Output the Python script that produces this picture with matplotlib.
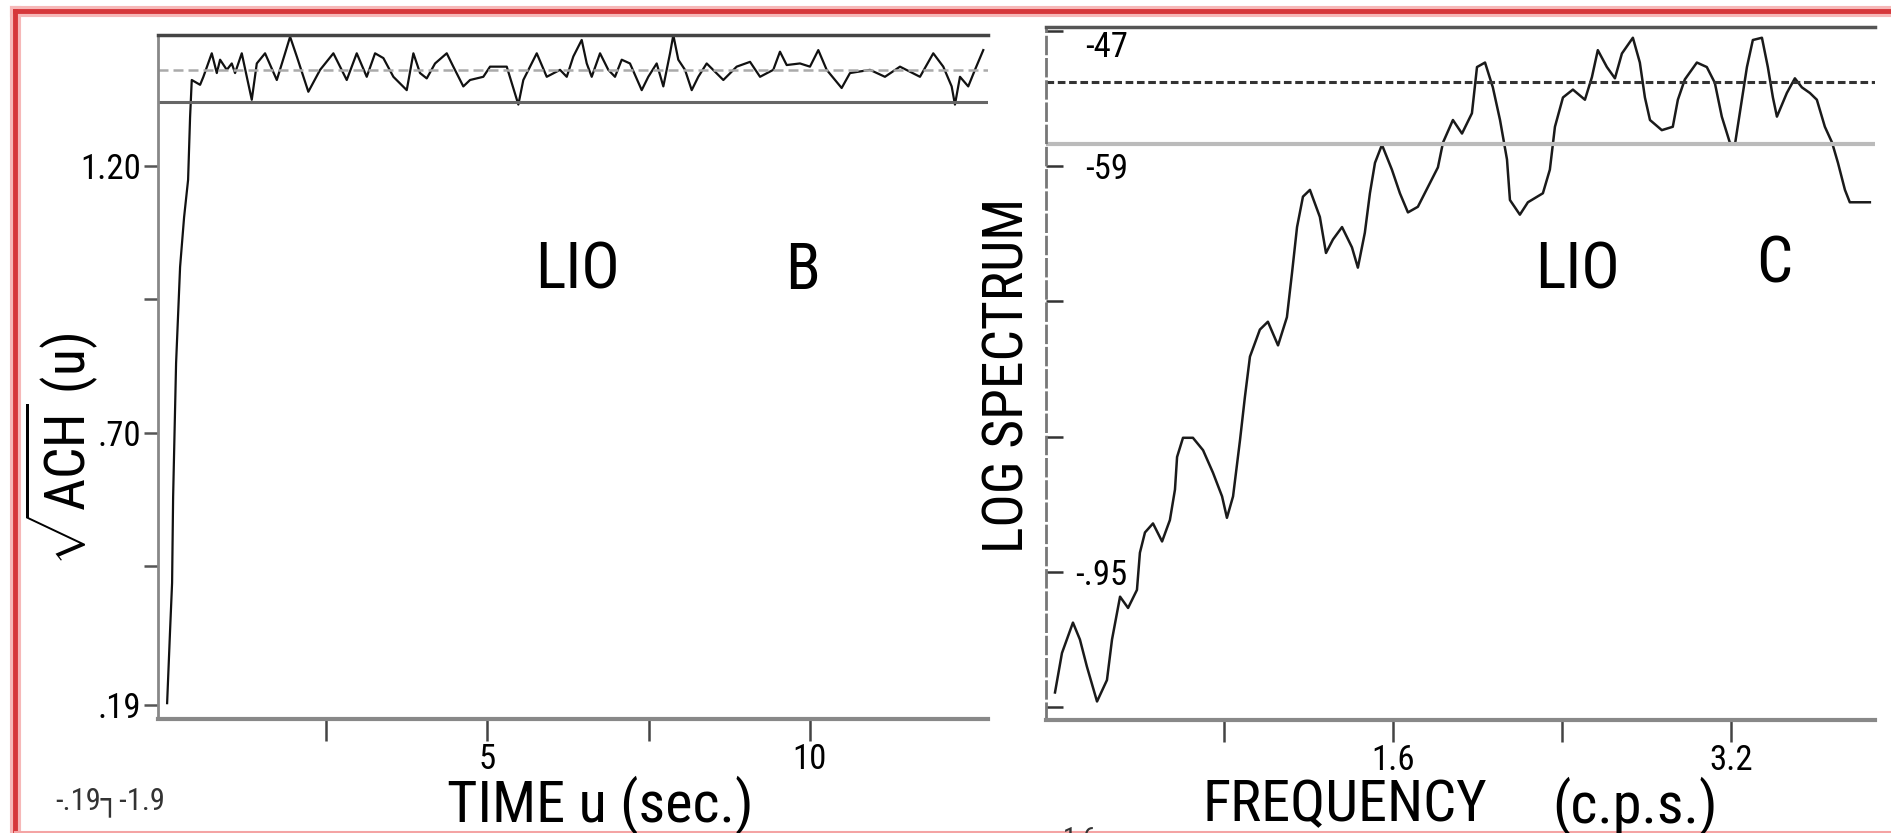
# -*- coding: utf-8 -*-
import numpy as np

import matplotlib
matplotlib.use('Agg')
import matplotlib.pyplot as plt
from matplotlib import font_manager
from matplotlib.lines import Line2D

# panel B: sqrt(ACH) against lag u
time = [0.036, 0.082, 0.113, 0.129, 0.175, 0.237, 0.299, 0.361, 0.392, 0.418,
        0.547, 0.598, 0.728, 0.806, 0.857, 0.961, 1.038, 1.089, 1.193, 1.271,
        1.348, 1.426, 1.554, 1.736, 1.864, 1.942, 2.046, 2.225, 2.407, 2.613,
        2.820, 2.975, 3.130, 3.259, 3.388, 3.543, 3.750, 3.853, 3.956, 4.060,
        4.189, 4.370, 4.472, 4.627, 4.731, 4.937, 5.041, 5.300, 5.480, 5.557,
        5.765, 5.920, 6.126, 6.230, 6.332, 6.462, 6.540, 6.617, 6.746, 6.874,
        6.978, 7.082, 7.210, 7.392, 7.494, 7.624, 7.727, 7.831, 7.882, 7.959,
        8.063, 8.167, 8.269, 8.399, 8.657, 8.864, 9.071, 9.226, 9.431, 9.535,
        9.639, 9.845, 10.000, 10.129, 10.259, 10.491, 10.620, 10.930, 11.162, 11.395,
        11.705, 11.911, 12.066, 12.196, 12.247, 12.325, 12.453, 12.557, 12.686]
vach = [0.194, 0.331, 0.419, 0.580, 0.831, 1.011, 1.104, 1.174, 1.292, 1.361,
        1.352, 1.367, 1.411, 1.374, 1.399, 1.380, 1.392, 1.374, 1.411, 1.367,
        1.324, 1.392, 1.411, 1.361, 1.411, 1.442, 1.405, 1.339, 1.380, 1.411,
        1.361, 1.411, 1.367, 1.411, 1.402, 1.367, 1.342, 1.411, 1.374, 1.364,
        1.392, 1.411, 1.386, 1.349, 1.361, 1.367, 1.386, 1.386, 1.315, 1.361,
        1.411, 1.367, 1.380, 1.367, 1.405, 1.436, 1.392, 1.367, 1.411, 1.380,
        1.367, 1.399, 1.392, 1.342, 1.367, 1.392, 1.349, 1.411, 1.445, 1.399,
        1.380, 1.342, 1.367, 1.392, 1.361, 1.386, 1.395, 1.367, 1.380, 1.414,
        1.389, 1.392, 1.386, 1.417, 1.380, 1.346, 1.374, 1.380, 1.367, 1.386,
        1.367, 1.411, 1.386, 1.349, 1.315, 1.367, 1.349, 1.380, 1.417]
vach_levels = [1.380, 1.320]
vach_ticks = [1.20, 0.95, 0.70, 0.45, 0.19]
vach_ticklabels = ['1.20', '', '.70', '', '.19']
time_ticks = [2.5, 5, 7.5, 10]
time_ticklabels = ['', '5', '', '10']

# panel C: log spectrum against frequency
freq = [0.000, 0.033, 0.085, 0.118, 0.151, 0.199, 0.246, 0.270, 0.308, 0.346,
        0.388, 0.402, 0.426, 0.464, 0.507, 0.544, 0.568, 0.578, 0.606, 0.653,
        0.701, 0.748, 0.791, 0.814, 0.843, 0.876, 0.899, 0.923, 0.970, 1.008,
        1.056, 1.098, 1.122, 1.146, 1.174, 1.207, 1.254, 1.283, 1.316, 1.359,
        1.406, 1.434, 1.467, 1.491, 1.515, 1.548, 1.595, 1.633, 1.671, 1.718,
        1.775, 1.813, 1.837, 1.884, 1.927, 1.974, 1.998, 2.036, 2.073, 2.107,
        2.140, 2.154, 2.201, 2.239, 2.310, 2.343, 2.367, 2.405, 2.452, 2.509,
        2.542, 2.570, 2.613, 2.651, 2.684, 2.736, 2.769, 2.793, 2.817, 2.873,
        2.925, 2.949, 2.982, 3.039, 3.086, 3.124, 3.157, 3.195, 3.219, 3.252,
        3.276, 3.304, 3.347, 3.375, 3.399, 3.418, 3.465, 3.503, 3.536, 3.574,
        3.607, 3.645, 3.679, 3.707, 3.740, 3.763, 3.858]
logspec = [-105.7, -102.2, -99.5, -101.0, -103.4, -106.5, -104.6, -101.0, -97.2, -98.2,
           -96.6, -93.3, -91.5, -90.7, -92.3, -90.4, -87.7, -84.8, -83.1, -83.1,
           -84.2, -86.2, -88.3, -90.2, -88.3, -83.3, -79.5, -75.9, -73.5, -72.8,
           -74.9, -72.4, -68.5, -64.4, -61.7, -61.1, -63.5, -66.7, -65.5, -64.4,
           -66.2, -68.0, -64.9, -61.4, -58.7, -57.1, -59.3, -61.4, -63.1, -62.6,
           -60.5, -59.1, -56.9, -54.9, -56.1, -54.3, -50.2, -49.8, -52.0, -54.9,
           -58.4, -62.0, -63.3, -62.2, -61.4, -59.3, -55.5, -52.9, -52.2, -53.1,
           -51.1, -48.7, -50.2, -51.2, -49.0, -47.6, -49.8, -52.9, -54.9, -55.8,
           -55.5, -53.1, -51.3, -49.8, -50.2, -51.6, -54.6, -56.9, -57.1, -53.1,
           -50.2, -47.8, -47.6, -50.2, -52.9, -54.6, -52.5, -51.2, -52.0, -52.5,
           -53.1, -55.5, -56.9, -58.7, -61.1, -62.2, -62.2]
spec_levels = [-51.5, -57.0]
spec_ticks = [-47, -59, -71, -83, -95, -107]
spec_ticklabels = ['-47', '-59', '', '', '-.95', '']
freq_ticks = [0.8, 1.6, 2.4, 3.2]
freq_ticklabels = ['', '1.6', '', '3.2']

# pick a narrow sans face if one is installed (the scan uses condensed lettering)
installed = set(f.name for f in font_manager.fontManager.ttflist)
narrow = [name for name in ['Liberation Sans Narrow', 'Roboto Condensed',
    'DejaVu Sans Condensed', 'Open Sans Condensed', 'Noto Sans Condensed']
    if name in installed]
if narrow:
    family = narrow[0]
    fs_tick, fs_big, fs_label, fs_ylabel = 25, 46, 42, 40
else:
    family = 'Liberation Sans'
    fs_tick, fs_big, fs_label, fs_ylabel = 21, 44, 37, 34

plt.rcParams['font.family'] = [family, 'DejaVu Sans']
plt.rcParams['mathtext.fontset'] = 'custom'
plt.rcParams['mathtext.rm'] = family

# create figure object
fig = plt.figure(figsize=(18.91, 8.33), dpi=100)

# scanned red frame
for color, lw in [('#f6b8b8', 8), ('#d6383b', 3.5)]:
    fig.add_artist(Line2D([15 / 1891, 15 / 1891], [0, 1 - 11 / 833],
        transform=fig.transFigure, color=color, lw=lw))
    fig.add_artist(Line2D([15 / 1891, 1], [1 - 11 / 833, 1 - 11 / 833],
        transform=fig.transFigure, color=color, lw=lw))
fig.add_artist(Line2D([15 / 1891, 1], [1.5 / 833, 1.5 / 833],
    transform=fig.transFigure, color='#f4a4a4', lw=1.5))

# left panel
ax = fig.add_axes([0.0836, 0.1369, 0.4389, 0.8211])
ax.plot(time, vach, color='#111111', lw=1.6)
ax.axhline(vach_levels[0], color='#aaaaaa', lw=1.8, ls=(0, (4, 2)))
ax.axhline(vach_levels[1], color='#666666', lw=2.2)
ax.set_xlim(-0.104, 12.76)
ax.set_ylim(0.1644, 1.4453)
ax.set_yticks(vach_ticks)
ax.set_yticklabels(vach_ticklabels, fontsize=fs_tick)
ax.set_xticks(time_ticks)
ax.set_xticklabels(time_ticklabels, fontsize=fs_tick)
ax.tick_params(axis='y', direction='out', length=10, width=1.8, color='#555555', pad=2)
ax.tick_params(axis='x', direction='out', length=16, width=1.8, color='#444444', pad=1)
ax.spines['right'].set_visible(False)
ax.spines['top'].set_color('#444444')
ax.spines['top'].set_linewidth(2.5)
ax.spines['left'].set_color('#888888')
ax.spines['left'].set_linewidth(2)
ax.spines['bottom'].set_color('#888888')
ax.spines['bottom'].set_linewidth(3)

ax.text(0.505, 0.655, 'LIO', transform=ax.transAxes, fontsize=fs_big,
    ha='center', va='center')
ax.text(0.777, 0.655, 'B', transform=ax.transAxes, fontsize=fs_big,
    ha='center', va='center')

# right panel
ax2 = fig.add_axes([0.5531, 0.1357, 0.4384, 0.8319])
ax2.plot(freq, logspec, color='#1a1a1a', lw=1.8)
ax2.axhline(spec_levels[0], color='#333333', lw=2.2, ls=(0, (2.5, 1.2)))
ax2.axhline(spec_levels[1], color='#bbbbbb', lw=3)
ax2.set_xlim(-0.043, 3.882)
ax2.set_ylim(-108.14, -46.645)
ax2.set_yticks(spec_ticks)
ax2.set_yticklabels(spec_ticklabels, fontsize=fs_tick)
ax2.set_xticks(freq_ticks)
ax2.set_xticklabels(freq_ticklabels, fontsize=fs_tick)
ax2.tick_params(axis='y', direction='in', length=12, width=1.8, color='#333333', pad=-59)
ax2.tick_params(axis='x', direction='out', length=16, width=1.8, color='#444444', pad=1)
ax2.get_yticklabels()[0].set_verticalalignment('top')
ax2.spines['right'].set_visible(False)
ax2.spines['top'].set_color('#555555')
ax2.spines['top'].set_linewidth(2.5)
ax2.spines['left'].set_color('#777777')
ax2.spines['left'].set_linewidth(2)
ax2.spines['left'].set_linestyle((0, (6, 2)))
ax2.spines['bottom'].set_color('#888888')
ax2.spines['bottom'].set_linewidth(3)

ax2.text(0.641, 0.649, 'LIO', transform=ax2.transAxes, fontsize=fs_big,
    ha='center', va='center')
ax2.text(0.879, 0.657, 'C', transform=ax2.transAxes, fontsize=fs_big,
    ha='center', va='center')

# axis captions
fig.text(0.3173, 0.0336, 'TIME u (sec.)', fontsize=fs_label, ha='center', va='center')
fig.text(0.7113, 0.0324, 'FREQUENCY', fontsize=fs_label, ha='center', va='center')
fig.text(0.8646, 0.0324, '(c.p.s.)', fontsize=fs_label, ha='center', va='center')
fig.text(0.0325, 0.4610, r'$\sqrt{\mathrm{ACH}}$ (u)', fontsize=fs_ylabel, rotation=90,
    ha='center', va='center')
fig.text(0.5331, 0.5498, 'LOG SPECTRUM', fontsize=fs_ylabel, rotation=90,
    ha='center', va='center')

# cut-off text of the next figure at the bottom edge
fig.text(55 / 1891, 1 - 802 / 833, '-.19\u2510-1.9', fontsize=22,
    ha='left', va='center', color='#333333')
fig.text(1080 / 1891, 1 - 826 / 833, '1.6', fontsize=20,
    ha='center', va='top', color='#333333')

plt.savefig('out.png', dpi=100)
plt.close(fig)
